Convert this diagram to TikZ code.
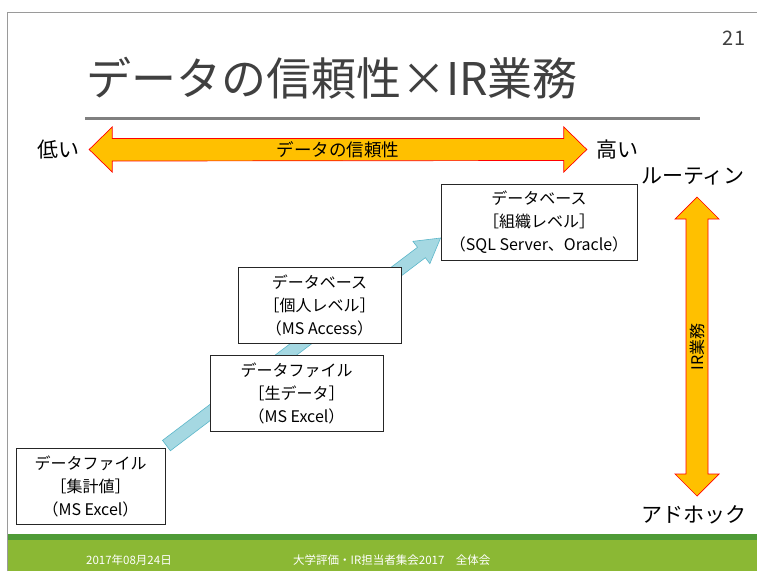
\documentclass[tikz,border=0pt]{standalone}
\usepackage{fontspec}
\setmainfont{Noto Sans CJK JP}
\usetikzlibrary{calc,backgrounds}
\definecolor{orangefill}{HTML}{FFC000}
\definecolor{bluefill}{HTML}{A5D8E2}
\definecolor{blueline}{HTML}{5CB7CA}
\definecolor{greendark}{HTML}{4F9B36}
\definecolor{greenlight}{HTML}{8BB834}
\definecolor{titlegray}{HTML}{404040}
\definecolor{rulegray}{HTML}{808080}
\definecolor{framegray}{HTML}{9A9A9A}
\begin{document}
\begin{tikzpicture}[x=1pt,y=-1pt,
  stepbox/.style={draw=black!85, line width=0.9pt, fill=white, inner sep=0pt, align=center,
     font=\fontsize{16}{23}\selectfont},
  bigarrow/.style={draw=red, line width=0.7pt, fill=orangefill},
  sidelabel/.style={font=\fontsize{21}{21}\selectfont, inner sep=0pt},
  footlabel/.style={font=\fontsize{11.5}{12}\selectfont, text=white, inner sep=0pt, anchor=west}]
\useasboundingbox (0,0) rectangle (757,571);

% title and page number
\node[anchor=west, inner sep=0pt, text=titlegray, font=\fontsize{45}{45}\selectfont] (title) at (86,78) {データの信頼性×IR業務};
\node[inner sep=0pt, text=titlegray, font=\fontsize{20}{20}\selectfont] (pagenum) at (734,38) {21};

% boxes
\node[stepbox, minimum width=149pt, minimum height=76pt] (b1) at (90.5,486) {データファイル\\［集計値］\\（MS Excel）};
\node[stepbox, minimum width=173pt, minimum height=76pt] (b2) at (296.5,393) {データファイル\\［生データ］\\（MS Excel）};
\node[stepbox, minimum width=163pt, minimum height=76pt] (b3) at (319.5,305) {データベース\\［個人レベル］\\（MS Access）};
\node[stepbox, minimum width=196pt, minimum height=76pt] (b4) at (539,222) {データベース\\［組織レベル］\\（SQL Server、Oracle）};

% side labels
\node[sidelabel] (low) at (58,150) {低い};
\node[sidelabel] (high) at (617,150) {高い};
\node[sidelabel] (routine) at (693,176) {ルーティン};
\node[sidelabel] (adhoc) at (694,515) {アドホック};

% horizontal double arrow
\coordinate (hL) at ($(low.east)+(10,-0.5)$);
\coordinate (hR) at ($(high.west)+(-9,-0.5)$);
\draw[bigarrow] (hL) -- ++(23,-22.5) -- ++(0,11.5) -- ($(hR)+(-23,-11)$) -- ++(0,-11.5)
   -- (hR) -- ++(-23,22.5) -- ++(0,-11.5) -- ($(hL)+(23,11.5)$) -- ++(0,11) -- cycle;
\node[inner sep=0pt, font=\fontsize{17.5}{17.5}\selectfont] (hlabel) at ($(hL)!0.5!(hR)$) {データの信頼性};

% vertical double arrow
\coordinate (vT) at (697,197);
\coordinate (vB) at (697,496);
\draw[bigarrow] (vT) -- ++(22,22) -- ++(-11,0) -- ($(vB)+(11,-22)$) -- ++(11,0) -- (vB)
   -- ++(-22,-22) -- ++(11,0) -- ($(vT)+(-11,22)$) -- ++(-11,0) -- cycle;
\node[inner sep=0pt, rotate=90, font=\fontsize{16}{16}\selectfont] (vlabel) at (697,347) {IR業務};

% footer labels
\node[footlabel] (date) at (86,560) {2017年08月24日};
\node[footlabel] (event) at (293,560) {大学評価・IR担当者集会2017　全体会};

\begin{pgfonlayer}{background}
  \fill[white] (0,0) rectangle (757,571);
  \fill[greenlight] (7,537) rectangle (757,571);
  \fill[greendark] (7,534) rectangle (757,540);
  \draw[framegray, line width=1pt] (7,571) -- (7,12) -- (757,12);
  \draw[rulegray, line width=3pt] (85,118) -- (700,118);
  % blue progression arrow
  \coordinate (bt) at ($(b1.north east)+(1,-2)$);
  \coordinate (bh) at ($(b4.west)+(0,16)$);
  \coordinate (bm) at ($(bh)!24pt!(bt)$);
  \draw[blueline, fill=bluefill, line width=0.6pt]
    ($(bt)!6.5pt!90:(bh)$) -- ($(bm)!6.5pt!-90:(bt)$) -- ($(bm)!14pt!-90:(bt)$) -- (bh)
    -- ($(bm)!14pt!90:(bt)$) -- ($(bm)!6.5pt!90:(bt)$) -- ($(bt)!6.5pt!-90:(bh)$) -- cycle;
\end{pgfonlayer}
\end{tikzpicture}
\end{document}
